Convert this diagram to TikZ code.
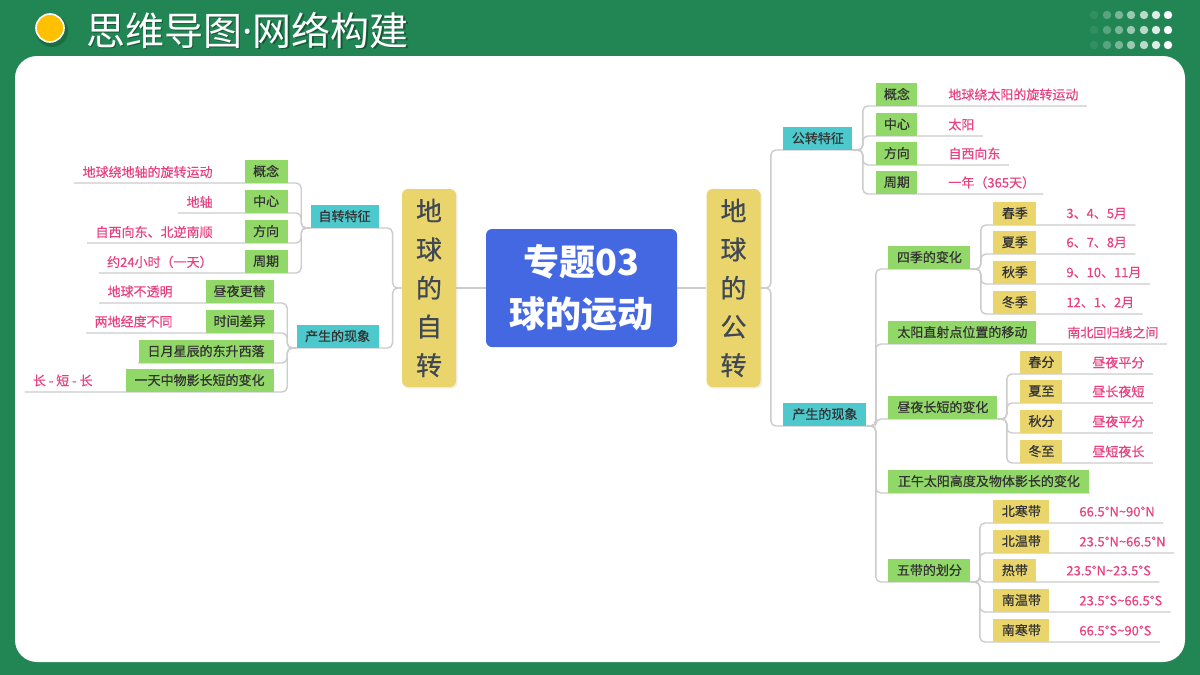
\documentclass[tikz,border=0pt]{standalone}
\usepackage{fontspec}
\setmainfont{Noto Sans CJK SC}
\newfontfamily\medfont{Noto Sans CJK SC}[FakeBold=0.6]
\newfontfamily\lblfont{Noto Sans CJK SC}[FakeBold=0.3]
\newfontfamily\dotfont{Noto Sans}
\usetikzlibrary{shadows,calc}
\definecolor{bggreen}{RGB}{33,134,84}
\definecolor{tealc}{RGB}{77,200,204}
\definecolor{greenc}{RGB}{146,216,104}
\definecolor{yellowc}{RGB}{233,213,108}
\definecolor{pinkc}{RGB}{233,64,128}
\definecolor{boxtext}{RGB}{51,51,51}
\definecolor{vtext}{RGB}{64,72,84}
\definecolor{linegray}{RGB}{204,204,204}
\definecolor{centerblue}{RGB}{68,104,226}
\definecolor{sunc}{RGB}{255,192,0}
\pgfdeclarelayer{bg}
\pgfsetlayers{bg,main}
\begin{document}
\begin{tikzpicture}[x=0.5pt,y=-0.5pt,
  conn/.style={draw=linegray, line width=0.7pt, rounded corners=2.5pt},
  sbox/.style={inner sep=0pt, minimum height=11.5pt, text=boxtext, font=\medfont\fontsize{6.5}{7.5}\selectfont},
  tealb/.style={sbox, fill=tealc},
  greenb/.style={sbox, fill=greenc},
  yellowb/.style={sbox, fill=yellowc},
  lbl/.style={inner sep=0pt, text=pinkc, font=\lblfont\fontsize{6.5}{7.5}\selectfont},
  vbox/.style={fill=yellowc, rounded corners=3pt, minimum width=27pt, minimum height=99pt, inner sep=0pt,
    align=center, text=vtext, font=\medfont\fontsize{13}{19.3}\selectfont,
    drop shadow={opacity=0.12, shadow xshift=0.8pt, shadow yshift=-0.8pt}},
  cbox/.style={fill=centerblue, rounded corners=3pt, minimum width=95.5pt, minimum height=59pt, inner sep=0pt,
    align=center, text=white, font=\fontsize{18}{26}\selectfont\bfseries}
]
\useasboundingbox (0,0) rectangle (1200,675);
\begin{pgfonlayer}{bg}
\fill[bggreen] (0,0) rectangle (1200,675);
\fill[white, rounded corners=11pt] (15,56) rectangle (1185,662);
\end{pgfonlayer}

% header
\fill[black, opacity=0.18] (52,31) circle[radius=8pt];
\filldraw[fill=sunc, draw=white, line width=0.8pt] (50,28) circle[radius=7pt];
\node[anchor=west, inner sep=0pt, text=black, opacity=0.35, font=\fontsize{19.5}{21}\selectfont] at (87.5,31.5) {思维导图{\dotfont ·}网络构建};
\node[anchor=west, inner sep=0pt, text=white, font=\fontsize{19.5}{21}\selectfont] (title) at (86,30) {思维导图{\dotfont ·}网络构建};
\foreach \x/\o in {1094/0.08,1107/0.25,1119/0.4,1131/0.55,1144/0.7,1156/0.85,1168/1}{
  \foreach \y in {15,30,45}{
    \fill[white, opacity=\o] (\x,\y) circle[radius=2.1pt];
  }
}

% central and main branches
\node[cbox] (ct) at (581.5,288) {专题03\\球的运动};
\node[vbox] (zzL) at (429,288) {地\\球\\的\\自\\转};
\node[vbox] (gzR) at (733.5,288) {地\\球\\的\\公\\转};

% ---------- left side ----------
\node[tealb, minimum width=34pt, anchor=south east] (zt) at (379,228) {自转特征};
\node[tealb, minimum width=41pt, anchor=south east] (xxL) at (379,348) {产生的现象};

\node[greenb, minimum width=21.5pt, anchor=south east] (gnL) at (288,183) {概念};
\node[lbl, anchor=east] (gnLl) at (213,172) {地球绕地轴的旋转运动};
\node[greenb, minimum width=21.5pt, anchor=south east] (zxL) at (288,213) {中心};
\node[lbl, anchor=east] (zxLl) at (213,202) {地轴};
\node[greenb, minimum width=21.5pt, anchor=south east] (fxL) at (288,243) {方向};
\node[lbl, anchor=east] (fxLl) at (213,232) {自西向东、北逆南顺};
\node[greenb, minimum width=21.5pt, anchor=south east] (zqL) at (288,273) {周期};
\node[lbl, anchor=east] (zqLl) at (213,262) {约24小时（一天）};

\node[greenb, minimum width=34pt, anchor=south east] (zy) at (274,303) {昼夜更替};
\node[lbl, anchor=east] (zyl) at (173,291.5) {地球不透明};
\node[greenb, minimum width=34pt, anchor=south east] (sj) at (274,333) {时间差异};
\node[lbl, anchor=east] (sjl) at (173,321.5) {两地经度不同};
\node[greenb, minimum width=67.5pt, anchor=south east] (ry) at (274,363) {日月星辰的东升西落};
\node[greenb, minimum width=74pt, anchor=south east] (yt) at (274,392) {一天中物影长短的变化};
\node[lbl, anchor=east] (ytl) at (93,380.5) {长 - 短 - 长};

% ---------- right side ----------
\node[tealb, minimum width=34.5pt, anchor=south west] (gtz) at (783,150) {公转特征};
\node[tealb, minimum width=41.5pt, anchor=south west] (xxR) at (783,426) {产生的现象};

\node[greenb, minimum width=20.5pt, anchor=south west] (gnR) at (876,106) {概念};
\node[lbl, anchor=west] (gnRl) at (948,94.5) {地球绕太阳的旋转运动};
\node[greenb, minimum width=20.5pt, anchor=south west] (zxR) at (876,136) {中心};
\node[lbl, anchor=west] (zxRl) at (948,124.5) {太阳};
\node[greenb, minimum width=20.5pt, anchor=south west] (fxR) at (876,165) {方向};
\node[lbl, anchor=west] (fxRl) at (948,153.5) {自西向东};
\node[greenb, minimum width=20.5pt, anchor=south west] (zqR) at (876,194) {周期};
\node[lbl, anchor=west] (zqRl) at (948,182.5) {一年（365天）};

\node[greenb, minimum width=41pt, anchor=south west] (sjb) at (888,269) {四季的变化};
\node[greenb, minimum width=74pt, anchor=south west] (zs) at (888,344) {太阳直射点位置的移动};
\node[lbl, anchor=west] (zsl) at (1067,332.5) {南北回归线之间};
\node[greenb, minimum width=54.5pt, anchor=south west] (zycd) at (888,419) {昼夜长短的变化};
\node[greenb, minimum width=100.5pt, anchor=south west] (zw) at (888,493) {正午太阳高度及物体影长的变化};
\node[greenb, minimum width=41pt, anchor=south west] (wd) at (888,582) {五带的划分};

\node[yellowb, minimum width=21.5pt, anchor=south west] (cj) at (993,225) {春季};
\node[lbl, anchor=west] (cjl) at (1066,213.5) {3、4、5月};
\node[yellowb, minimum width=21.5pt, anchor=south west] (xj) at (993,254) {夏季};
\node[lbl, anchor=west] (xjl) at (1066,242.5) {6、7、8月};
\node[yellowb, minimum width=21.5pt, anchor=south west] (qj) at (993,284) {秋季};
\node[lbl, anchor=west] (qjl) at (1066,272.5) {9、10、11月};
\node[yellowb, minimum width=21.5pt, anchor=south west] (dj) at (993,314) {冬季};
\node[lbl, anchor=west] (djl) at (1066,302.5) {12、1、2月};

\node[yellowb, minimum width=21pt, anchor=south west] (cf) at (1020,374) {春分};
\node[lbl, anchor=west] (cfl) at (1092,362.5) {昼夜平分};
\node[yellowb, minimum width=21pt, anchor=south west] (xz) at (1020,403) {夏至};
\node[lbl, anchor=west] (xzl) at (1092,391.5) {昼长夜短};
\node[yellowb, minimum width=21pt, anchor=south west] (qf) at (1020,433) {秋分};
\node[lbl, anchor=west] (qfl) at (1092,421.5) {昼夜平分};
\node[yellowb, minimum width=21pt, anchor=south west] (dz) at (1020,463) {冬至};
\node[lbl, anchor=west] (dzl) at (1092,451.5) {昼短夜长};

\node[yellowb, minimum width=28pt, anchor=south west] (bh) at (993,523) {北寒带};
\node[lbl, anchor=west] (bhl) at (1079,511.5) {66.5°N\textasciitilde90°N};
\node[yellowb, minimum width=28pt, anchor=south west] (bw) at (993,553) {北温带};
\node[lbl, anchor=west] (bwl) at (1079,541.5) {23.5°N\textasciitilde66.5°N};
\node[yellowb, minimum width=21.5pt, anchor=south west] (rd) at (993,582) {热带};
\node[lbl, anchor=west] (rdl) at (1066,570.5) {23.5°N\textasciitilde23.5°S};
\node[yellowb, minimum width=28pt, anchor=south west] (nw) at (993,612) {南温带};
\node[lbl, anchor=west] (nwl) at (1079,600.5) {23.5°S\textasciitilde66.5°S};
\node[yellowb, minimum width=28pt, anchor=south west] (nh) at (993,642) {南寒带};
\node[lbl, anchor=west] (nhl) at (1079,630.5) {66.5°S\textasciitilde90°S};

% ---------- connectors ----------
\begin{pgfonlayer}{bg}
\draw[conn] (ct.west) -- (zzL.east);
\draw[conn] (ct.east) -- (gzR.west);
% left
\draw[conn] (zzL.west) -- ++(-9,0) |- (zt.south west);
\draw[conn] (zzL.west) -- ++(-9,0) |- (xxL.south west);
\foreach \b/\l in {gnL/gnLl,zxL/zxLl,fxL/fxLl,zqL/zqLl}{
  \draw[conn] (zt.south west) -- ++(-9,0) |- ([xshift=-4pt]\l.west |- \b.south);
}
\foreach \b/\l in {zy/zyl,sj/sjl,yt/ytl}{
  \draw[conn] (xxL.south west) -- ++(-9,0) |- ([xshift=-4pt]\l.west |- \b.south);
}
\draw[conn] (xxL.south west) -- ++(-9,0) |- (ry.south west);
% right
\draw[conn] (gzR.east) -- ++(10,0) |- (gtz.south east);
\draw[conn] (gzR.east) -- ++(10,0) |- (xxR.south east);
\foreach \b/\l in {gnR/gnRl,zxR/zxRl,fxR/fxRl,zqR/zqRl}{
  \draw[conn] (gtz.south east) -- ++(10,0) |- ([xshift=4pt]\l.east |- \b.south);
}
\foreach \b in {sjb,zycd,zw,wd}{
  \draw[conn] (xxR.south east) -- ++(9,0) |- (\b.south east);
}
\draw[conn] (xxR.south east) -- ++(9,0) |- ([xshift=4pt]zsl.east |- zs.south);
\foreach \b/\l in {cj/cjl,xj/xjl,qj/qjl,dj/djl}{
  \draw[conn] (sjb.south east) -- ++(10,0) |- ([xshift=4pt]\l.east |- \b.south);
}
\foreach \b/\l in {cf/cfl,xz/xzl,qf/qfl,dz/dzl}{
  \draw[conn] (zycd.south east) -- ++(9,0) |- ([xshift=4pt]\l.east |- \b.south);
}
\foreach \b/\l in {bh/bhl,bw/bwl,rd/rdl,nw/nwl,nh/nhl}{
  \draw[conn] (wd.south east) -- ++(9,0) |- ([xshift=4pt]\l.east |- \b.south);
}
\end{pgfonlayer}
\end{tikzpicture}
\end{document}
